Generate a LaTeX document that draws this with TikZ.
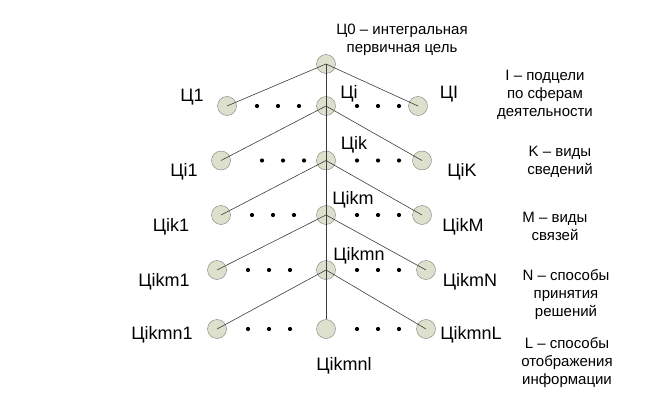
\documentclass[tikz,border=0pt]{standalone}
\usepackage{fontspec}
\setmainfont{Liberation Sans}
\usepackage{tikz}
\definecolor{NodeFill}{RGB}{221,224,204}
\definecolor{NodeRim}{RGB}{125,125,125}
\definecolor{EdgeGray}{RGB}{60,60,60}

\begin{document}
\begin{tikzpicture}[x=1pt,y=-1pt,
    goal/.style={circle, draw=NodeRim, fill=NodeFill, minimum size=19pt, inner sep=0pt},
    edge/.style={draw=EdgeGray, line width=0.6pt},
    lbl/.style={font=\fontsize{18}{20}\selectfont, inner sep=0pt},
    note/.style={font=\fontsize{15}{18}\selectfont, align=center, inner sep=0pt}]
\useasboundingbox (0,0) rectangle (645,409);

% goal circles: left, centre, right of each level
\node[goal] (c0) at (326,64) {};
\node[goal] (l1) at (227,106) {};
\node[goal] (c1) at (326,106) {};
\node[goal] (r1) at (418,106) {};
\node[goal] (l2) at (221,160.5) {};
\node[goal] (c2) at (326,160.5) {};
\node[goal] (r2) at (422,160.5) {};
\node[goal] (l3) at (221,215) {};
\node[goal] (c3) at (326,215) {};
\node[goal] (r3) at (422,215) {};
\node[goal] (l4) at (217,270) {};
\node[goal] (c4) at (326,270) {};
\node[goal] (r4) at (426,270) {};
\node[goal] (l5) at (217,329) {};
\node[goal] (c5) at (326,329) {};
\node[goal] (r5) at (426,329) {};

% links
\draw[edge] (c0.center) -- (c5.north);
\foreach \p/\r in {0/1,1/2,2/3,3/4,4/5} {
  \draw[edge] (c\p.center) -- (l\r.center);
  \draw[edge] (c\p.center) -- (r\r.center);
}

% dots between the circles
\foreach \y/\a in {106/257, 160.5/262, 215/252, 270/248, 329/248} {
  \foreach \dx in {0,21,42} {
    \fill (\a+\dx,\y) circle (2.1);
    \fill (357+\dx,\y) circle (2.1);
  }
}

% labels
\node[note] (top) at (402,40) {Ц0 – интегральная\\первичная цель};
\node[lbl] (t1) at (192,97) {Ц1};
\node[lbl] (ti) at (349,94) {Цi};
\node[lbl] (tI) at (449,94) {ЦI};
\node[lbl] (ti1) at (184,172) {Цi1};
\node[lbl] (tik) at (354,145) {Цik};
\node[lbl] (tiK) at (462,172) {ЦiK};
\node[lbl] (tikm) at (353,200) {Цikm};
\node[lbl] (tik1) at (171,227) {Цik1};
\node[lbl] (tikM) at (463,227) {ЦikM};
\node[lbl] (tikmn) at (359,256) {Цikmn};
\node[lbl] (tikm1) at (164,282) {Цikm1};
\node[lbl] (tikmN) at (470,282) {ЦikmN};
\node[lbl] (tikmn1) at (162,335) {Цikmn1};
\node[lbl] (tikmnL) at (471,335) {ЦikmnL};
\node[lbl] (tikmnl) at (344,366) {Цikmnl};

% level notes
\node[note] (nI) at (545,95) {I – подцели\\по сферам\\деятельности};
\node[note] (nK) at (560,162) {K – виды\\сведений};
\node[note] (nM) at (555,226) {M – виды\\связей};
\node[note] (nN) at (566,295) {N – способы\\принятия\\решений};
\node[note] (nL) at (567,363) {L – способы\\отображения\\информации};
\end{tikzpicture}
\end{document}
